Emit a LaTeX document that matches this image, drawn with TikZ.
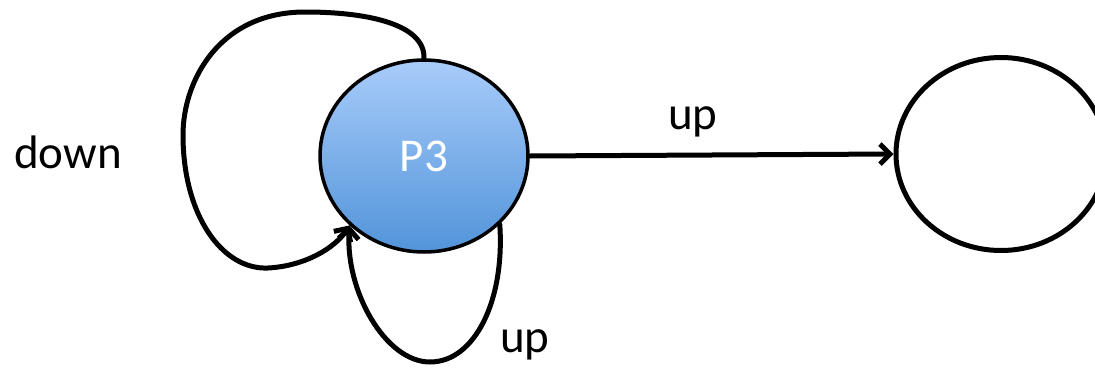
\documentclass[tikz,border=0pt]{standalone}
\usepackage{fontspec}
\setmainfont{Carlito}
\usetikzlibrary{arrows.meta,shapes.geometric}
\definecolor{ptop}{RGB}{168,204,250}
\definecolor{pbot}{RGB}{82,148,218}
\tikzset{
  state/.style={ellipse, draw=black, line width=3.5pt, inner sep=0pt},
  edge/.style={draw=black, line width=5pt, line cap=round, -{Straight Barb[length=10pt,width=20pt,line width=5pt]}},
  lbl/.style={font=\fontsize{47}{52}\selectfont, text=black}
}
\begin{document}
\begin{tikzpicture}[x=1pt,y=-1pt]
\useasboundingbox (0,0) rectangle (1095,367);
\node[state, minimum width=208pt, minimum height=192pt, top color=ptop, bottom color=pbot,
      text=white, font=\fontsize{47}{52}\selectfont] (p3) at (424,156) {P3};
\node[state, line width=5pt, minimum width=210pt, minimum height=193pt] (r) at (1001,154) {};
\coordinate (c1) at (183,135);
\coordinate (c2) at (430,362);
\draw[edge] (p3.east) -- (r.west);
\draw[edge] (p3.north) .. controls (425,25) and (370,12) .. (305,12)
  .. controls (220,12) and (183,80) .. (c1)
  .. controls (183,215) and (222,270) .. (268,268)
  .. controls (305,266) and (335,248) .. (p3.223);
\draw[edge] (p3.318) .. controls (505,300) and (475,362) .. (c2)
  .. controls (385,362) and (345,290) .. (p3.223);
\node[lbl] (lup1) at (693,122) {up};
\node[lbl] (lup2) at (525,345) {up};
\node[lbl] (ldown) at (68,152) {down};
\end{tikzpicture}
\end{document}
